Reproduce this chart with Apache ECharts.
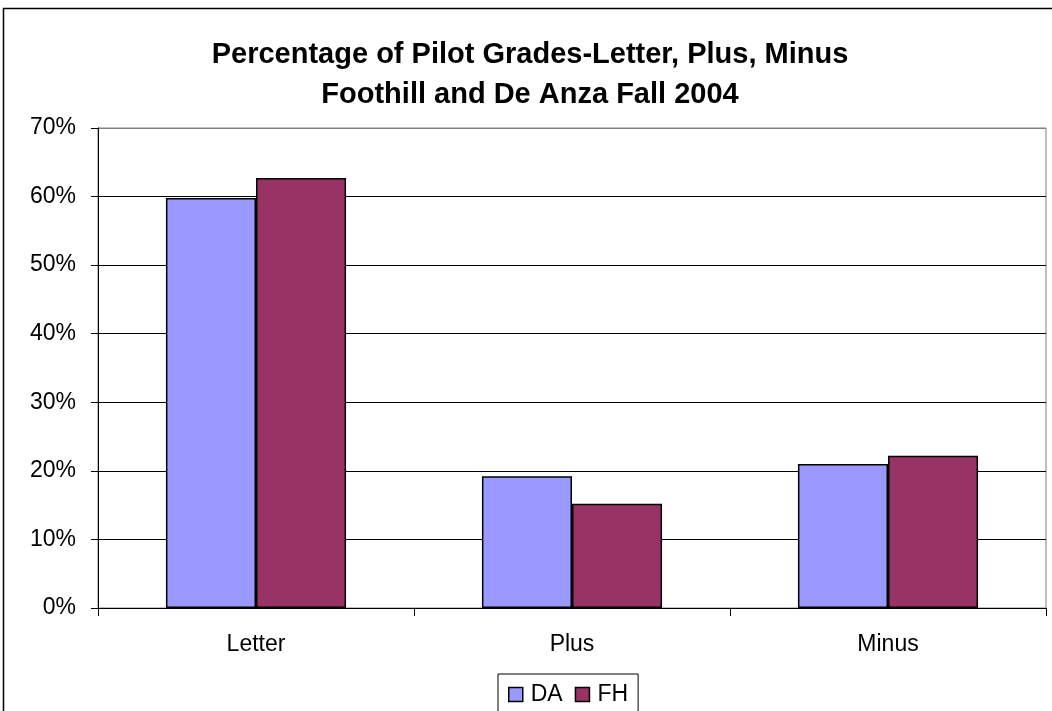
<!DOCTYPE html>
<html>
<head>
<meta charset="utf-8">
<script src="https://cdn.jsdelivr.net/npm/echarts@6/dist/echarts.min.js"></script>
<style>
  html, body { margin: 0; padding: 0; background: #fff; }
  #chart { width: 1052px; height: 711px; }
</style>
</head>
<body>
<div id="chart"></div>
<script>
// categories and values (percent)
var categories = ['Letter', 'Plus', 'Minus'];
var daValues = [59.8, 19.2, 21.0];
var fhValues = [62.7, 15.2, 22.2];
var seriesNames = ['DA', 'FH'];

var myChart = echarts.init(document.getElementById('chart'), null, {renderer: 'canvas'});

var font = 'Liberation Sans, Arial, sans-serif';

myChart.setOption({
    animation: false,
    color: ['#9999ff', '#993366'],
    title: {
        text: 'Percentage of Pilot Grades-Letter, Plus, Minus\nFoothill and De Anza Fall 2004',
        left: 525,
        textAlign: 'center',
        top: 30,
        textStyle: {
            fontFamily: font,
            fontSize: 29,
            fontWeight: 'bold',
            color: '#000',
            lineHeight: 40
        }
    },
    legend: {
        data: seriesNames,
        left: 498,
        top: 674,
        orient: 'horizontal',
        icon: 'rect',
        itemWidth: 14,
        itemHeight: 14,
        itemGap: 12,
        borderColor: '#000',
        borderWidth: 1,
        padding: [9, 10, 9, 10],
        textStyle: {fontFamily: font, fontSize: 23, color: '#000', padding: [0, 0, 0, 3]},
        itemStyle: {borderColor: '#000', borderWidth: 1.5}
    },
    grid: {
        left: 98,
        right: 6,
        top: 128,
        bottom: 103,
        show: true,
        borderColor: '#808080',
        borderWidth: 1
    },
    xAxis: {
        type: 'category',
        data: categories,
        axisLine: {lineStyle: {color: '#000', width: 1}},
        axisTick: {show: true, length: 8, lineStyle: {color: '#000'}},
        axisLabel: {fontFamily: font, fontSize: 23, color: '#000', margin: 25}
    },
    yAxis: {
        type: 'value',
        min: 0,
        max: 70,
        interval: 10,
        axisLine: {show: true, lineStyle: {color: '#000', width: 1}},
        axisTick: {show: true, length: 7, lineStyle: {color: '#000'}},
        axisLabel: {
            fontFamily: font, fontSize: 23, color: '#000', margin: 22,
            formatter: '{value}%'
        },
        splitLine: {
            show: true,
            lineStyle: {color: ['#000', '#000', '#000', '#000', '#000', '#000', '#000', '#808080'], width: 1}
        }
    },
    series: [
        {
            name: seriesNames[0],
            type: 'bar',
            data: daValues,
            barGap: '0%',
            barCategoryGap: '43%',
            itemStyle: {borderColor: '#000', borderWidth: 1.5}
        },
        {
            name: seriesNames[1],
            type: 'bar',
            data: fhValues,
            barGap: '0%',
            barCategoryGap: '43%',
            itemStyle: {borderColor: '#000', borderWidth: 1.5}
        }
    ],
    graphic: [
        {
            type: 'rect',
            shape: {x: 3.5, y: 8.5, width: 1100, height: 800},
            style: {fill: 'none', stroke: '#000', lineWidth: 1.5},
            silent: true
        }
    ]
});
</script>
</body>
</html>
